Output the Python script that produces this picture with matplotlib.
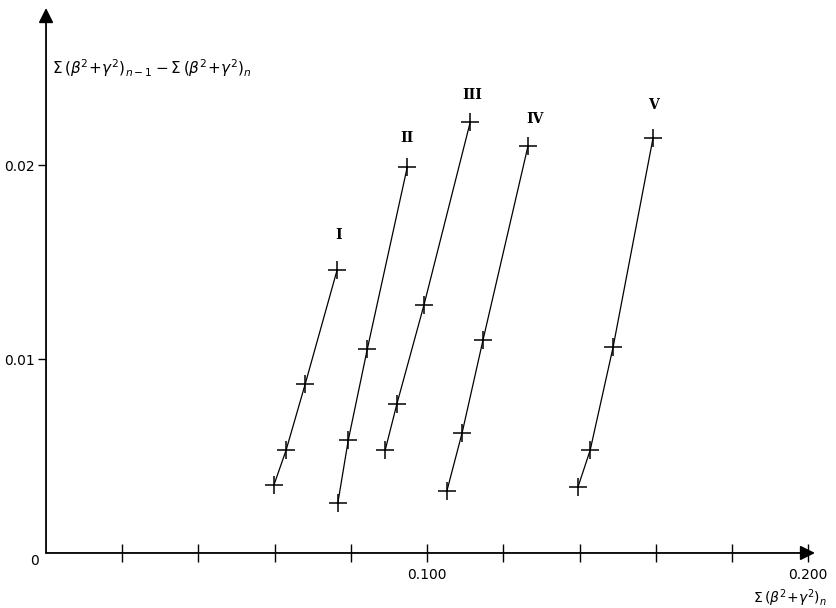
import matplotlib.pyplot as plt
import numpy as np

# values, one array pair per curve
x_I = [0.0598, 0.0630, 0.0680, 0.0764]
y_I = [0.0035, 0.0053, 0.0087, 0.0146]
x_II = [0.0766, 0.0793, 0.0843, 0.0948]
y_II = [0.0026, 0.0058, 0.0105, 0.0199]
x_III = [0.0890, 0.0921, 0.0992, 0.1113]
y_III = [0.0053, 0.0077, 0.0128, 0.0222]
x_IV = [0.1052, 0.1092, 0.1147, 0.1265]
y_IV = [0.0032, 0.0062, 0.0110, 0.0210]
x_V = [0.1396, 0.1428, 0.1488, 0.1593]
y_V = [0.0034, 0.0053, 0.0106, 0.0214]

curve_names = ["I", "II", "III", "IV", "V"]
name_x = [0.0769, 0.0948, 0.1118, 0.1283, 0.1593]
name_y = [0.0164, 0.0214, 0.0236, 0.0224, 0.0231]

xticks = [0.02, 0.04, 0.06, 0.08, 0.10, 0.12, 0.14, 0.16, 0.18, 0.20]
xticklabels = ["", "", "", "", "0.100", "", "", "", "", "0.200"]
yticks = [0.01, 0.02]
yticklabels = ["0.01", "0.02"]

xmax, ymax = 0.2018, 0.0281

fig = plt.figure(figsize=(8.37, 6.08), dpi=100)
ax = fig.add_axes([0.055, 0.0905, 0.9187, 0.8963])
ax.set_xlim(0, xmax)
ax.set_ylim(0, ymax)
for s in ax.spines.values():
    s.set_visible(False)

# axes drawn as arrows
ax.annotate("", xy=(xmax, 0), xytext=(0, 0),
            arrowprops=dict(arrowstyle="-|>", color="k", lw=1.3, mutation_scale=22, shrinkA=0, shrinkB=0))
ax.annotate("", xy=(0, ymax), xytext=(0, 0),
            arrowprops=dict(arrowstyle="-|>", color="k", lw=1.3, mutation_scale=22, shrinkA=0, shrinkB=0))

for xs, ys in [(x_I, y_I), (x_II, y_II), (x_III, y_III), (x_IV, y_IV), (x_V, y_V)]:
    ax.plot(xs, ys, color="k", lw=0.9, marker="+", ms=13, mew=1.1)

for nm, nx, ny in zip(curve_names, name_x, name_y):
    ax.text(nx, ny, nm, ha="center", va="center", fontsize=10,
            family="DejaVu Serif", fontweight="bold")

ax.set_xticks(xticks)
ax.set_xticklabels(xticklabels)
ax.tick_params(axis="x", direction="inout", length=13, width=1, pad=4, labelsize=10)
ax.set_yticks(yticks)
ax.set_yticklabels(yticklabels)
ax.tick_params(axis="y", direction="out", length=6, width=1, pad=2, labelsize=10)

ax.text(-0.0029, -0.0004, "0", ha="center", va="center", fontsize=10, clip_on=False)
ax.text(0.1953, -0.00235, r"$\Sigma\,(\beta^2\!+\!\gamma^2)_n$", ha="center", va="center",
        fontsize=10, clip_on=False)
ax.text(0.0016, 0.0250, r"$\Sigma\,(\beta^2\!+\!\gamma^2)_{n-1} - \Sigma\,(\beta^2\!+\!\gamma^2)_n$",
        ha="left", va="center", fontsize=11)

fig.savefig("out.png", dpi=100)
